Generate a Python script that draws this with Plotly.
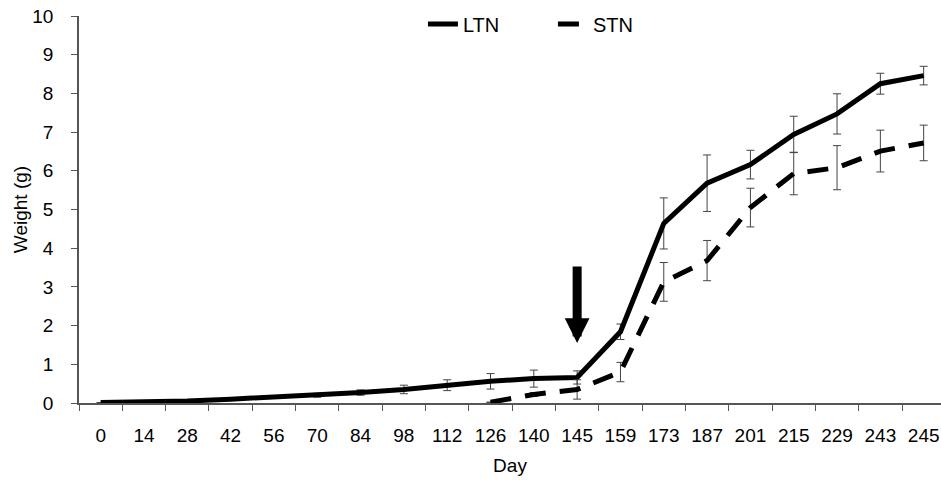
import plotly.graph_objects as go

days = ["0", "14", "28", "42", "56", "70", "84", "98", "112", "126", "140",
        "145", "159", "173", "187", "201", "215", "229", "243", "245"]
ltn = [0.01, 0.02, 0.05, 0.10, 0.15, 0.20, 0.27, 0.35, 0.46, 0.56, 0.63,
       0.66, 1.84, 4.64, 5.68, 6.16, 6.94, 7.47, 8.25, 8.46]
ltn_err = [0, 0, 0, 0, 0, 0.05, 0.07, 0.11, 0.14, 0.2, 0.22,
           0.17, 0.2, 0.66, 0.73, 0.37, 0.47, 0.52, 0.27, 0.24]
stn = [None, None, None, None, None, None, None, None, None, 0.02, 0.22,
       0.35, 0.8, 3.13, 3.68, 5.05, 5.93, 6.08, 6.51, 6.72]
stn_err = [0, 0, 0, 0, 0, 0, 0, 0, 0, 0, 0.05,
           0.25, 0.25, 0.5, 0.52, 0.5, 0.55, 0.57, 0.54, 0.46]
arrow_day = "145"
arrow_tip = 1.55

font = "Liberation Sans, Arial, sans-serif"
fs = 19

fig = go.Figure()
fig.add_trace(go.Scatter(
    x=days, y=ltn, name="LTN", mode="lines",
    line=dict(color="black", width=5),
    error_y=dict(type="data", array=ltn_err, visible=True,
                 color="#444444", thickness=1, width=4),
))
fig.add_trace(go.Scatter(
    x=days, y=stn, name="STN", mode="lines",
    line=dict(color="black", width=5, dash="21px,14px"),
    error_y=dict(type="data", array=stn_err, visible=True,
                 color="#444444", thickness=1, width=4),
))

fig.add_annotation(
    x=days.index(arrow_day), y=arrow_tip, xref="x", yref="y", text="",
    showarrow=True, ax=0, ay=-78, arrowhead=2, arrowsize=0.55,
    arrowwidth=9, arrowcolor="black", standoff=0,
)

fig.update_layout(
    width=941, height=482,
    margin=dict(l=79, r=0, t=16, b=79),
    paper_bgcolor="white", plot_bgcolor="white",
    font=dict(family=font, size=fs, color="black"),
    showlegend=True,
    legend=dict(orientation="h", x=0.399, xanchor="left", y=1.03, yanchor="top",
                entrywidth=85, entrywidthmode="pixels",
                font=dict(family=font, size=20, color="black"),
                bgcolor="rgba(0,0,0,0)"),
    xaxis=dict(
        type="category", range=[-0.5, 19.4], automargin=False,
        showgrid=False, zeroline=False,
        showline=True, linecolor="#555555", linewidth=1.5,
        ticks="outside", tickson="boundaries", ticklen=6, tickcolor="#555555",
        tickangle=0,
        tickfont=dict(family=font, size=fs, color="black"),
        ticklabelstandoff=14,
        title=dict(text="Day", font=dict(family=font, size=fs, color="black"),
                   standoff=14),
    ),
    yaxis=dict(
        range=[0, 10], dtick=1, automargin=False,
        showgrid=False, zeroline=False,
        showline=True, linecolor="#555555", linewidth=1.5,
        ticks="outside", ticklen=6, tickcolor="#555555",
        tickfont=dict(family=font, size=fs, color="black"),
        ticklabelstandoff=14,
        title=dict(text="Weight (g)", font=dict(family=font, size=fs, color="black"),
                   standoff=0),
    ),
)

fig.write_html("out.html", config={"displayModeBar": False},
               post_script="document.body.style.margin='0';document.body.style.overflow='hidden';")
